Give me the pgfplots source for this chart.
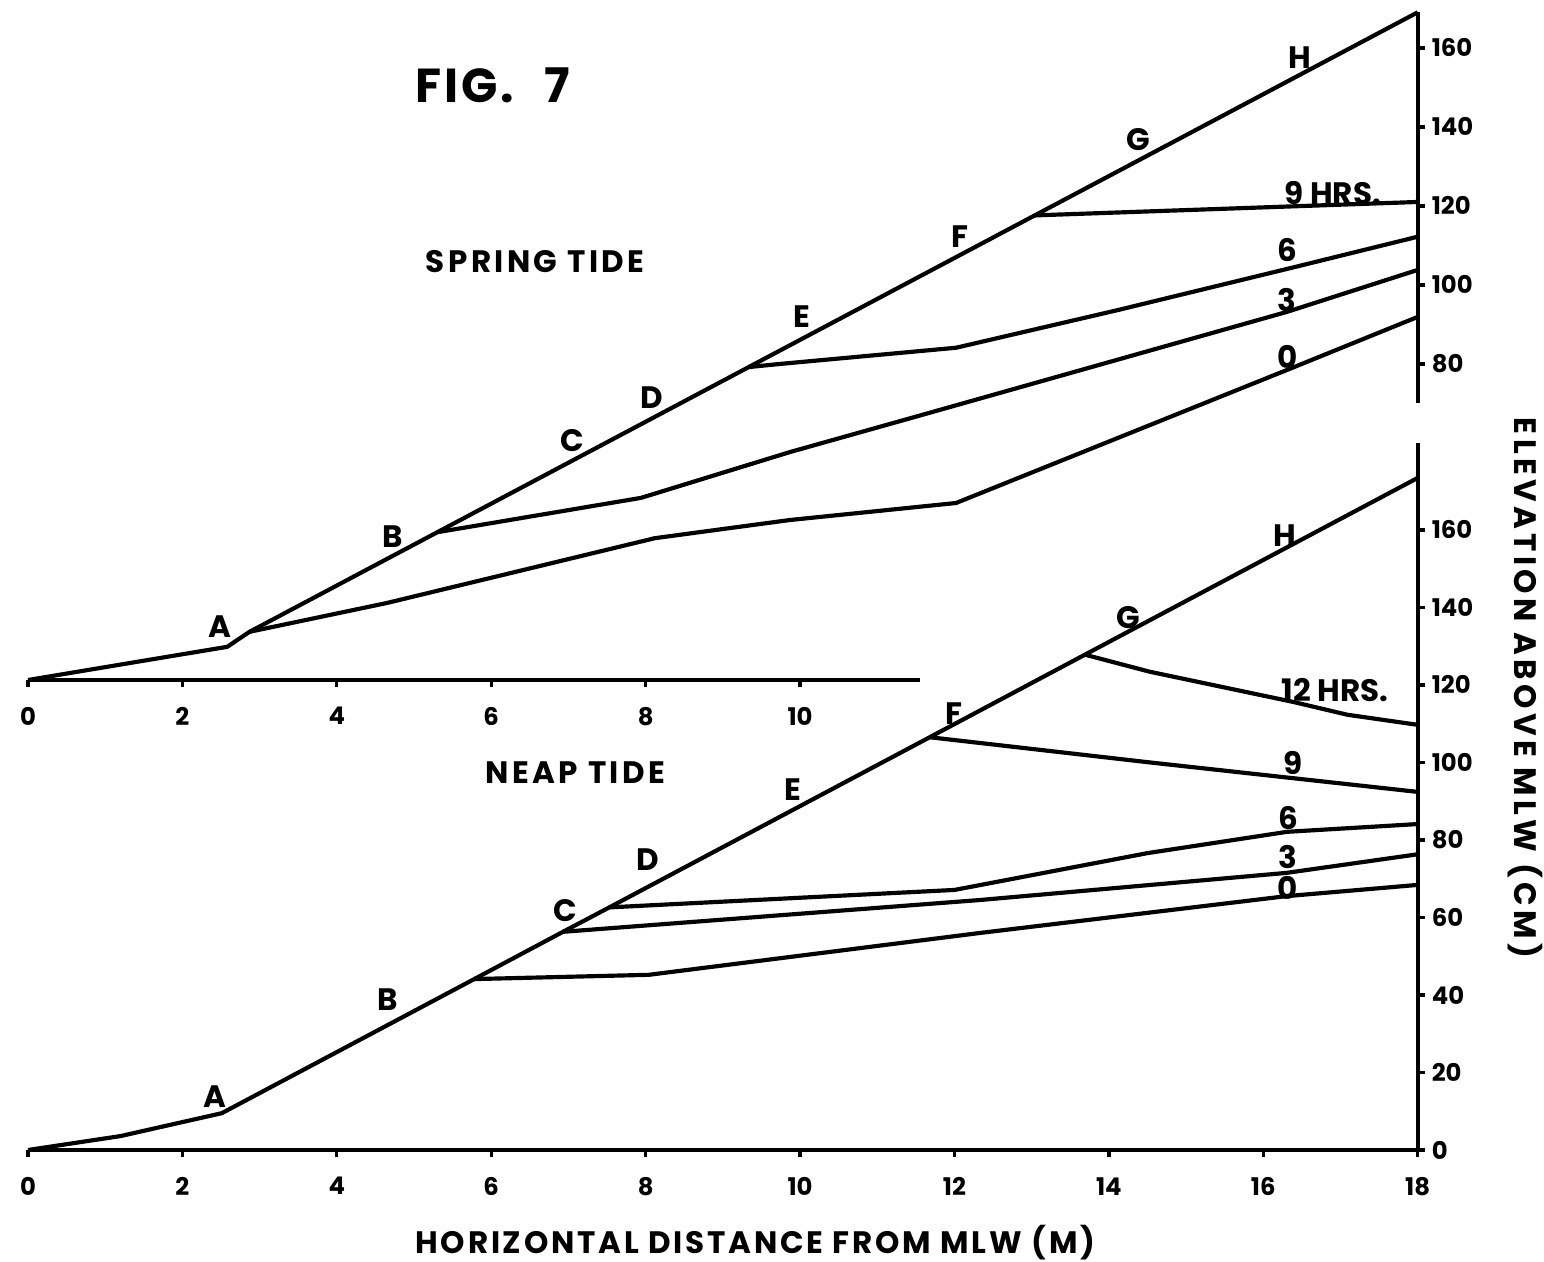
\documentclass[border=0pt]{standalone}
\usepackage{fontspec}
\setmainfont{Poppins}
\usepackage{pgfplots}
\pgfplotsset{compat=1.18}
\pgfplotsset{
  fig/.style={
    scale only axis, width=416.9pt, xmin=0, xmax=18, clip=false,
    anchor=south west,
    axis x line*=bottom, axis y line*=right,
    axis line style={line width=1.25pt, black},
    tick align=outside, major tick length=2.2pt,
    tick style={line width=1pt, black},
    ticklabel style={font=\bfseries\fontsize{7.3}{8}\selectfont},
    xticklabel style={yshift=-2.5pt},
    yticklabel style={xshift=-1.5pt},
    /pgf/number format/assume math mode=true,
    no markers,
    cycle list={black},
    every axis plot/.append style={solid, line width=1.25pt, line join=round},
  },
}
\tikzset{
  lbl/.style={font=\bfseries\fontsize{9.3}{10}\selectfont, inner sep=0pt},
  ttl/.style={font=\bfseries\fontsize{9.3}{10}\selectfont\addfontfeature{LetterSpace=11}, inner sep=0pt},
}
\begin{document}
\begin{tikzpicture}
\path[use as bounding box] (-8.4pt,-33.3pt) rectangle (454.8pt,345pt);
% ---------------- SPRING TIDE (top) ----------------
\begin{axis}[fig, at={(0pt,141pt)}, height=200.3pt, ymin=0, ymax=169,
  axis line style={draw=none},
  xtick={0,2,4,6,8,10}, ytick={80,100,120,140,160}]
  % axis lines drawn partially
  \addplot coordinates {(0,0) (11.55,0)};
  \addplot coordinates {(18,70) (18,169)};
  % beach profile
  \addplot coordinates {(0,0) (2.58,8.4) (2.87,12.2) (18,169)};
  % 0 hrs
  \addplot coordinates {(2.87,12.2) (4.65,19.5) (8.12,35.9) (9.87,40.5) (12.02,44.8) (16.31,78.5) (18,91.9)};
  % 3 hrs
  \addplot coordinates {(5.30,37.4) (7.94,46.1) (9.87,57.7) (11.49,66.6) (16.31,93.2) (18,103.8)};
  % 6 hrs
  \addplot coordinates {(9.33,79.2) (9.74,80.0) (12.02,84.1) (14.13,93.7) (16.36,104.3) (18,112.2)};
  % 9 hrs
  \addplot coordinates {(13.04,117.6) (18,121.0)};
  \node[lbl] at (axis cs:2.49,13.4) {A};
  \node[lbl] at (axis cs:4.72,36.2) {B};
  \node[lbl] at (axis cs:7.05,60.5) {C};
  \node[lbl] at (axis cs:8.08,71.6) {D};
  \node[lbl] at (axis cs:10.03,91.9) {E};
  \node[lbl] at (axis cs:12.07,112.2) {F};
  \node[lbl] at (axis cs:14.38,136.7) {G};
  \node[lbl] at (axis cs:16.48,157.5) {H};
  \node[lbl] at (axis cs:16.9,123.3) {9 HRS.};
  \node[lbl] at (axis cs:16.31,108.9) {6};
  \node[lbl] at (axis cs:16.31,96.2) {3};
  \node[lbl] at (axis cs:16.32,81.8) {0};
  \node[ttl] at (axis cs:6.57,105.8) {SPRING TIDE};
  \node[font=\bfseries\fontsize{14.3}{16}\selectfont\addfontfeature{LetterSpace=6}, inner sep=0pt] at (axis cs:6.02,150.6) {FIG.\hspace{9pt}7};
\end{axis}
% ---------------- NEAP TIDE (bottom) ----------------
\begin{axis}[fig, at={(0pt,0pt)}, height=212.2pt, ymin=0, ymax=182.5,
  xtick={0,2,...,18}, ytick={0,20,...,160}]
  % beach profile
  \addplot coordinates {(0,0) (1.2,3.6) (2.51,9.5) (5.78,44.1) (6.93,56.3) (7.53,62.6) (11.68,106.5) (13.69,127.8) (18,173.4)};
  % 0 hrs
  \addplot coordinates {(5.78,44.1) (8.04,45.2) (12.33,56.0) (16.3,65.5) (18,68.4)};
  % 3 hrs
  \addplot coordinates {(6.93,56.3) (12.33,64.5) (16.3,71.5) (18,76.3)};
  % 6 hrs
  \addplot coordinates {(7.53,62.6) (12.0,67.1) (14.5,76.6) (16.31,82.1) (18,84.1)};
  % 9 hrs
  \addplot coordinates {(11.68,106.5) (14.53,100.0) (18,92.4)};
  % 12 hrs
  \addplot coordinates {(13.69,127.8) (14.53,123.4) (16.39,115.6) (17.09,112.3) (18,109.7)};
  \node[lbl] at (axis cs:2.42,13.7) {A};
  \node[lbl] at (axis cs:4.66,38.7) {B};
  \node[lbl] at (axis cs:6.96,61.9) {C};
  \node[lbl] at (axis cs:8.03,74.8) {D};
  \node[lbl] at (axis cs:9.91,92.9) {E};
  \node[lbl] at (axis cs:12.0,112.5) {F};
  \node[lbl] at (axis cs:14.25,137.3) {G};
  \node[lbl] at (axis cs:16.28,158.5) {H};
  \node[lbl] at (axis cs:16.93,118.7) {12 HRS.};
  \node[lbl] at (axis cs:16.39,99.9) {9};
  \node[lbl] at (axis cs:16.32,85.7) {6};
  \node[lbl] at (axis cs:16.32,75.6) {3};
  \node[lbl] at (axis cs:16.32,67.6) {0};
  \node[ttl] at (axis cs:7.09,97.3) {NEAP TIDE};
  \node[ttl, font=\bfseries\fontsize{9.3}{10}\selectfont\addfontfeature{LetterSpace=9}] at (axis cs:9.42,-23.8) {HORIZONTAL DISTANCE FROM MLW (M)};
  \node[ttl, rotate=-90, font=\bfseries\fontsize{9.3}{10}\selectfont\addfontfeature{LetterSpace=14}] at (axis cs:19.39,119.2) {ELEVATION ABOVE MLW (CM)};
\end{axis}
\end{tikzpicture}
\end{document}
